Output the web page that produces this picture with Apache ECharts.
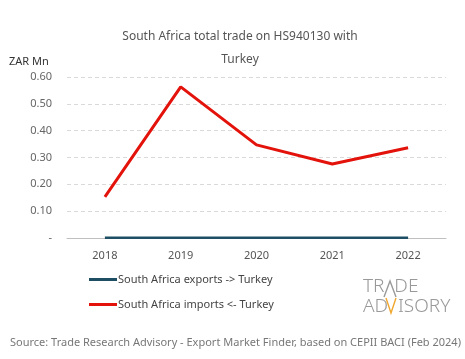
<!DOCTYPE html>
<html><head><meta charset="utf-8">
<script src="https://cdn.jsdelivr.net/npm/echarts@6/dist/echarts.min.js"></script>
<style>html,body{margin:0;padding:0;background:#fff}#c{width:465px;height:359px}</style>
</head><body><div id="c"></div>
<script>
const years = ['2018','2019','2020','2021','2022'];
const exportsTR = [0.001, 0.001, 0.001, 0.001, 0.001];
const importsTR = [0.153, 0.563, 0.347, 0.276, 0.336];
const yTicks = [0, 0.1, 0.2, 0.3, 0.4, 0.5, 0.6];

const FONT = '"Noto Sans", sans-serif';
const chart = echarts.init(document.getElementById('c'), null, {renderer:'canvas'});
chart.setOption({
  animation:false,
  textStyle:{fontFamily:FONT},
  title:{
    text:'South Africa total trade on HS940130 with\nTurkey',
    left:235, top:20, textAlign:'center',
    textStyle:{fontSize:12, fontWeight:'normal', color:'#555', lineHeight:23, fontFamily:FONT}
  },
  grid:{left:67, right:19, top:77, bottom:121},
  xAxis:{
    type:'category', data:years, boundaryGap:true,
    axisLine:{show:true, lineStyle:{color:'#bfbfbf'}},
    axisTick:{show:false},
    axisLabel:{color:'#555', fontSize:11, margin:12}
  },
  yAxis:{
    type:'value', min:yTicks[0], max:yTicks[yTicks.length-1], interval:0.1,
    name:'ZAR Mn', nameLocation:'end', nameGap:10,
    nameTextStyle:{color:'#333', fontSize:11, align:'left', padding:[0,0,0,-58]},
    axisLine:{show:false}, axisTick:{show:false},
    axisLabel:{color:'#666', fontSize:11, margin:15,
      formatter:v => v === 0 ? '-' : v.toFixed(2)},
    splitLine:{lineStyle:{color:'#d9d9d9', type:[4,3]}}
  },
  legend:{
    orient:'vertical', left:84, top:269, itemGap:14,
    itemWidth:28, itemHeight:3, icon:'rect',
    textStyle:{color:'#444', fontSize:11, padding:[0,0,0,-4]},
    data:['South Africa exports -> Turkey','South Africa imports <- Turkey']
  },
  series:[
    {name:'South Africa exports -> Turkey', type:'line', data:exportsTR,
     symbol:'none', lineStyle:{color:'#1d4e63', width:2.5}, itemStyle:{color:'#1d4e63'}},
    {name:'South Africa imports <- Turkey', type:'line', data:importsTR,
     symbol:'none', lineStyle:{color:'#e3120b', width:3}, itemStyle:{color:'#e3120b'}}
  ],
  graphic:[
    {type:'text', left:10, top:337, style:{text:'Source: Trade Research Advisory - Export Market Finder, based on CEPII BACI (Feb 2024)', fill:'#777', font:'11px '+FONT}},
    {type:'text', left:363, top:277, style:{text:'TR  DE', fill:'#999', font:'300 19px '+FONT}},
    {type:'text', left:363, top:297, style:{text:'AD  ISORY', fill:'#999', font:'300 19px '+FONT}},
    {type:'polyline', shape:{points:[[384,297],[390,281],[396,297]]}, style:{stroke:'#999', lineWidth:1.4, fill:null}},
    {type:'polyline', shape:{points:[[386,298],[391,313],[396,298]]}, style:{stroke:'#f0a830', lineWidth:1.4, fill:null}}
  ]
});
</script></body></html>
